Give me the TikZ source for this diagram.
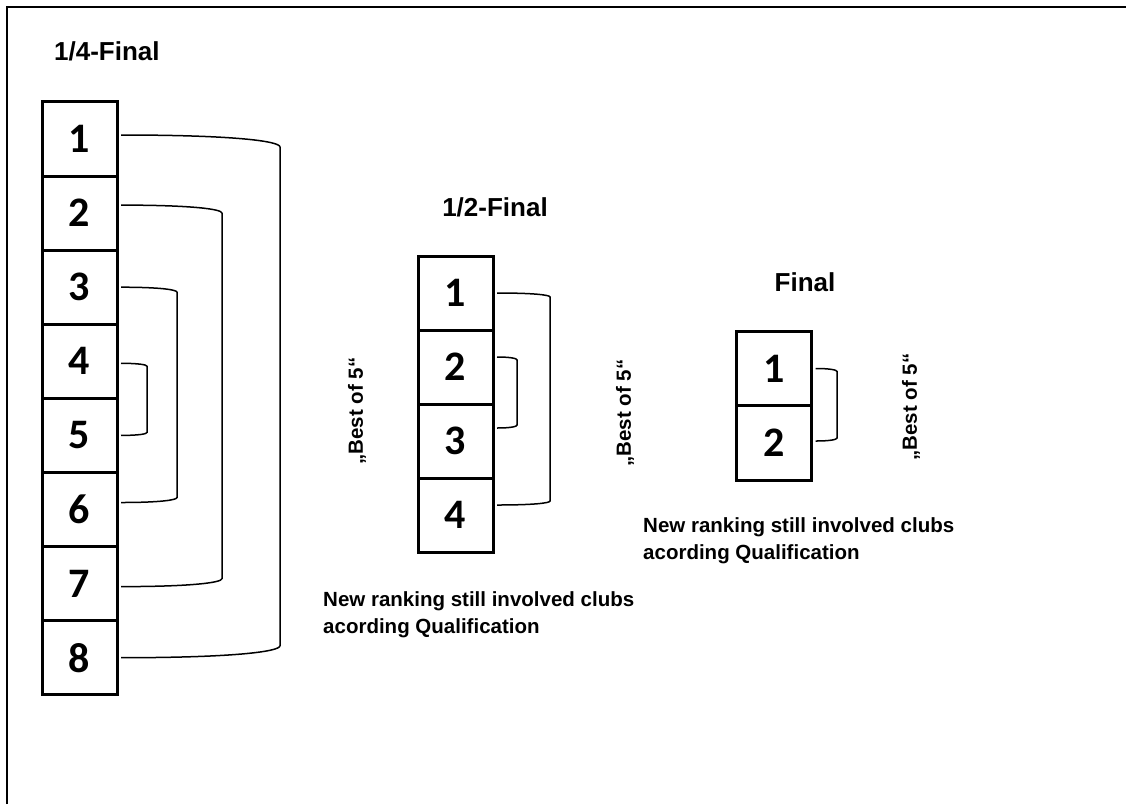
\documentclass[tikz,border=0pt]{standalone}
\usepackage{fontspec}
\setmainfont{Liberation Sans}
\newfontfamily\digitfont{Carlito}
\usetikzlibrary{calc}
\tikzset{
  cell/.style={draw, line width=3pt, minimum width=75pt, inner sep=0pt, outer sep=0pt,
    fill=white, font=\digitfont\bfseries\fontsize{42}{42}\selectfont},
  brk/.style={draw, line width=1.5pt},
  frameline/.style={draw, line width=2pt},
  titletext/.style={font=\bfseries\fontsize{26}{30}\selectfont, inner sep=0pt},
  notetext/.style={font=\bfseries\fontsize{20.5}{27}\selectfont, inner sep=0pt},
}
\newcommand\mybrk[4]{%
  \draw[brk] (#1) .. controls ($(#1)!0.7!(#1 -| #3)$) and ($(#1 -| #3)+(0,#4/2)$) ..
    ($(#1 -| #3)+(0,#4)$) -- ($(#2 -| #3)-(0,#4)$) ..
    controls ($(#2 -| #3)-(0,#4/2)$) and ($(#2)!0.7!(#2 -| #3)$) .. (#2);}
\begin{document}
\begin{tikzpicture}[x=1pt,y=-1pt]
\useasboundingbox (0,0) rectangle (1126,804);
\fill[white] (0,0) rectangle (1126,804);
\coordinate (fa) at (6.5,804);
\coordinate (fb) at (6.5,6.5);
\coordinate (fc) at (1126,6.5);
\draw[frameline] (fa) -- (fb) -- (fc);

% titles
\node[titletext, anchor=west] (tq) at (54,51) {1/4-Final};
\node[titletext] (ts) at (495,207) {1/2-Final};
\node[titletext] (tf) at (805,282) {Final};

% quarter-final cells
\foreach \i in {1,...,8}
  \node[cell, minimum height=74.1pt] (q\i) at (79.5,{139+74.1*(\i-1)}) {\i};
% semi-final cells
\foreach \i in {1,...,4}
  \node[cell, minimum height=74pt] (s\i) at (455.5,{293+74*(\i-1)}) {\i};
% final cells
\foreach \i in {1,2}
  \node[cell, minimum height=74.5pt] (f\i) at (774,{368.5+74.5*(\i-1)}) {\i};

% bracket end points
\coordinate (qa1) at ([xshift=4pt,yshift=4pt]q1.east);
\coordinate (qa8) at ([xshift=4pt]q8.east);
\coordinate (qa2) at ([xshift=4pt,yshift=8pt]q2.east);
\coordinate (qa7) at ([xshift=4pt,yshift=-3pt]q7.east);
\coordinate (qa3) at ([xshift=4pt]q3.east);
\coordinate (qa6) at ([xshift=4pt,yshift=7pt]q6.east);
\coordinate (qa4) at ([xshift=4pt,yshift=-2pt]q4.east);
\coordinate (qa5) at ([xshift=4pt]q5.east);
\coordinate (sa1) at ([xshift=4pt]s1.east);
\coordinate (sa4) at ([xshift=4pt,yshift=10pt]s4.east);
\coordinate (sa2) at ([xshift=4pt,yshift=10pt]s2.east);
\coordinate (sa3) at ([xshift=4pt,yshift=13pt]s3.east);
\coordinate (fa1) at ([xshift=4pt]f1.east);
\coordinate (fa2) at ([xshift=4pt,yshift=2pt]f2.east);

% vertical positions of brackets
\coordinate (v18) at (280,0);
\coordinate (v27) at (222,0);
\coordinate (v36) at (177,0);
\coordinate (v45) at (147,0);
\coordinate (w14) at (550,0);
\coordinate (w23) at (517,0);
\coordinate (u12) at (837,0);

\mybrk{qa1}{qa8}{v18}{12}
\mybrk{qa2}{qa7}{v27}{8}
\mybrk{qa3}{qa6}{v36}{5}
\mybrk{qa4}{qa5}{v45}{3}
\mybrk{sa1}{sa4}{w14}{4}
\mybrk{sa2}{sa3}{w23}{3}
\mybrk{fa1}{fa2}{u12}{3}

% best of 5 labels
\node[notetext, rotate=90] (b1) at (357,411) {„Best of 5“};
\node[notetext, rotate=90] (b2) at (625,413) {„Best of 5“};
\node[notetext, rotate=90] (b3) at (911,407) {„Best of 5“};

% notes
\node[notetext, anchor=base west] (n1a) at (323,606) {New ranking still involved clubs};
\node[notetext, anchor=base west] (n1b) at (323,633) {acording Qualification};
\node[notetext, anchor=base west] (n2a) at (643,532) {New ranking still involved clubs};
\node[notetext, anchor=base west] (n2b) at (643,559) {acording Qualification};
\end{tikzpicture}
\end{document}
